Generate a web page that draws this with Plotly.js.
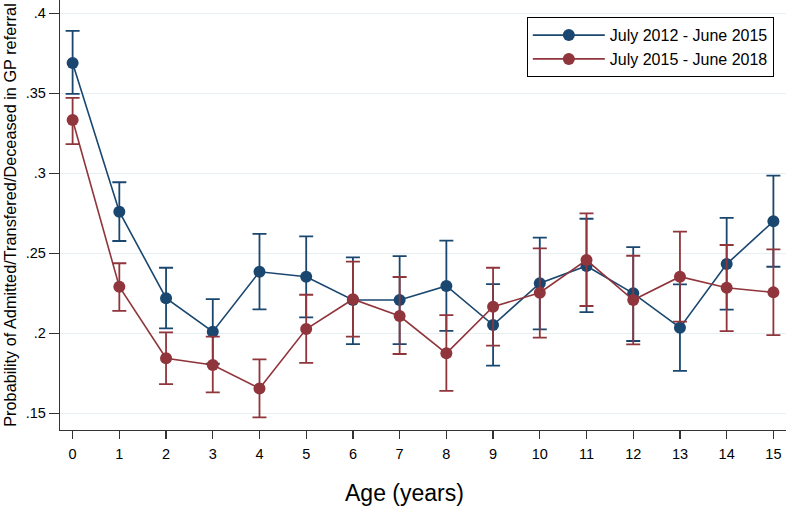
<!DOCTYPE html>
<html>
<head>
<meta charset="utf-8">
<script src="https://cdn.plot.ly/plotly-3.0.1.min.js"></script>
<style>html,body{margin:0;padding:0;background:#fff;}#chart{width:790px;height:506px;}</style>
</head>
<body>
<div id="chart"></div>
<script>
// Data
var ages = [0,1,2,3,4,5,6,7,8,9,10,11,12,13,14,15];
var seriesNames = ["July 2012 - June 2015", "July 2015 - June 2018"];
var p1 =     [0.369, 0.276, 0.222, 0.201, 0.2385, 0.2354, 0.2208, 0.2208, 0.2296, 0.2052, 0.2313, 0.2421, 0.225, 0.2035, 0.2433, 0.270];
var p1Upper= [0.389, 0.2944, 0.241, 0.2214, 0.2621, 0.2606, 0.2475, 0.2483, 0.2579, 0.2308, 0.2598, 0.2716, 0.2539, 0.2306, 0.2721, 0.2985];
var p1Lower= [0.3496, 0.2577, 0.2031, 0.181, 0.215, 0.210, 0.1933, 0.1933, 0.2016, 0.1798, 0.2025, 0.2133, 0.1952, 0.1766, 0.2148, 0.2416];
var p2 =     [0.3333, 0.2291, 0.1844, 0.1802, 0.1656, 0.2027, 0.2213, 0.2108, 0.1875, 0.2166, 0.2254, 0.2458, 0.2208, 0.2354, 0.2285, 0.2256];
var p2Upper= [0.3472, 0.2438, 0.2006, 0.198, 0.1837, 0.2241, 0.2448, 0.2352, 0.2114, 0.241, 0.2531, 0.275, 0.2485, 0.2635, 0.2552, 0.2525];
var p2Lower= [0.3183, 0.2141, 0.1683, 0.1631, 0.1475, 0.1816, 0.1979, 0.1871, 0.1641, 0.1923, 0.1973, 0.2171, 0.1931, 0.2073, 0.2014, 0.1989];
var yTickVals = [0.15, 0.2, 0.25, 0.3, 0.35, 0.4];
var yTickText = [".15", ".2", ".25", ".3", ".35", ".4"];
var xTitle = "Age (years)";
var yTitle = "Probability of Admitted/Transfered/Deceased in GP referral";

var blue = "#1a476f", red = "#90353b";
function diff(a, b){ return a.map(function(v,i){ return v - b[i]; }); }

function trace(y, up, lo, name, color){
  return {
    x: ages, y: y, name: name, type: "scatter", mode: "lines+markers",
    line: {color: color, width: 1.6},
    marker: {color: color, size: 12},
    error_y: {type: "data", symmetric: false, array: diff(up, y), arrayminus: diff(y, lo),
              color: color, thickness: 1.8, width: 7}
  };
}

var data = [
  trace(p1, p1Upper, p1Lower, seriesNames[0], blue),
  trace(p2, p2Upper, p2Lower, seriesNames[1], red)
];

var font = "Liberation Sans, Arial, sans-serif";
var layout = {
  width: 790, height: 506,
  margin: {l: 60, r: 4, t: 0, b: 76},
  paper_bgcolor: "#fff", plot_bgcolor: "#fff",
  font: {family: font, color: "#000"},
  showlegend: true,
  legend: {x: 0.643, y: 0.96, xanchor: "left", yanchor: "top",
           bordercolor: "#000", borderwidth: 1, bgcolor: "#fff",
           font: {size: 16, family: font}, itemwidth: 72},
  xaxis: {
    range: [-0.27, 15.27], tickvals: ages, ticks: "outside", ticklen: 8, tickwidth: 1.2,
    tickcolor: "#333", showline: true, linecolor: "#333", linewidth: 1.3, showgrid: false,
    zeroline: false, tickfont: {size: 14.5}, ticklabelstandoff: 2, automargin: false
  },
  yaxis: {
    range: [0.1396, 0.4083], tickvals: yTickVals, ticktext: yTickText,
    ticks: "outside", ticklen: 10, tickwidth: 1.2, tickcolor: "#333",
    showline: true, linecolor: "#333", linewidth: 1.3,
    showgrid: true, gridcolor: "#e6eff1", gridwidth: 1.2, zeroline: false,
    tickfont: {size: 14.5},
    title: {text: yTitle, font: {size: 16.3}, standoff: 5},
    automargin: false
  },
  annotations: [{
    text: xTitle, xref: "paper", yref: "paper", x: 0.475, y: -0.1465,
    xanchor: "center", yanchor: "middle", showarrow: false, font: {size: 23, family: font}
  }]
};

Plotly.newPlot("chart", data, layout, {displayModeBar: false, staticPlot: true});
</script>
</body>
</html>
